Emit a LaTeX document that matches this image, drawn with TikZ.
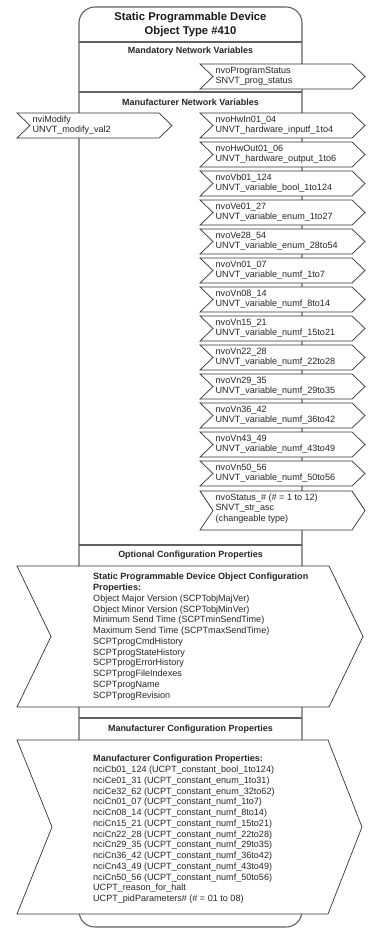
\documentclass[tikz,border=0pt]{standalone}
\usepackage{fontspec}
\setmainfont{Liberation Sans}
% chevron shaped network variable: name, left x, top y, tip x, height, notch depth, text
\newcommand\nvarrow[7]{%
  \draw[chev] (#2,#3) -- ({#4-#6},#3) -- (#4,{#3+#5/2}) -- ({#4-#6},{#3+#5})
    -- (#2,{#3+#5}) -- ({#2+#6},{#3+#5/2}) -- cycle;
  \node[nvtext] (#1) at ({#2+#6+2.5},{#3+1.6}) {\strut #7};
}
\begin{document}
\begin{tikzpicture}[x=1bp,y=-1bp,
  body/.style={draw=black!62, line width=1.1bp},
  chev/.style={draw=black!80, fill=white, line width=0.7bp, line join=miter},
  nvtext/.style={anchor=north west, inner sep=0pt, align=left,
    font=\fontsize{9.1}{10.5}\selectfont, text=black!85},
  cptext/.style={anchor=north west, inner sep=0pt, align=left,
    font=\fontsize{9.1}{10.8}\selectfont, text=black!85},
  hdr/.style={inner sep=0pt, font=\bfseries\fontsize{9}{10.8}\selectfont, text=black!85},
  ttl/.style={inner sep=0pt, align=center, font=\bfseries\fontsize{11.3}{14}\selectfont, text=black!90},
]
\useasboundingbox (0,0) rectangle (372,930);

% object body
\draw[body, rounded corners=16bp] (79,7) rectangle (302,927);
\draw[body] (79,42) -- (302,42);
\draw[body] (79,92) -- (302,92);
\draw[body] (79,545) -- (302,545);
\draw[body] (79,718) -- (302,718);

% headings
\node[ttl] (title) at (190.5,24.5) {Static Programmable Device\\Object Type \#410};
\node[hdr] (mandnv) at (190.5,51) {Mandatory Network Variables};
\node[hdr] (mfgnv) at (190.5,102.5) {Manufacturer Network Variables};
\node[hdr] (optcp) at (190.5,555) {Optional Configuration Properties};
\node[hdr] (mfgcp) at (190.5,729) {Manufacturer Configuration Properties};

% mandatory output
\nvarrow{progstatus}{200}{64}{365}{25}{13}{nvoProgramStatus\\SNVT\_prog\_status}

% manufacturer input
\nvarrow{modify}{17}{113}{172}{25}{13}{nviModify\\UNVT\_modify\_val2}

% manufacturer outputs
\foreach \n/\a/\b [count=\i from 0] in {
  hwin/nvoHwIn01\_04/UNVT\_hardware\_inputf\_1to4,
  hwout/nvoHwOut01\_06/UNVT\_hardware\_output\_1to6,
  vb/nvoVb01\_124/UNVT\_variable\_bool\_1to124,
  veA/nvoVe01\_27/UNVT\_variable\_enum\_1to27,
  veB/nvoVe28\_54/UNVT\_variable\_enum\_28to54,
  vnA/nvoVn01\_07/UNVT\_variable\_numf\_1to7,
  vnB/nvoVn08\_14/UNVT\_variable\_numf\_8to14,
  vnC/nvoVn15\_21/UNVT\_variable\_numf\_15to21,
  vnD/nvoVn22\_28/UNVT\_variable\_numf\_22to28,
  vnE/nvoVn29\_35/UNVT\_variable\_numf\_29to35,
  vnF/nvoVn36\_42/UNVT\_variable\_numf\_36to42,
  vnG/nvoVn43\_49/UNVT\_variable\_numf\_43to49,
  vnH/nvoVn50\_56/UNVT\_variable\_numf\_50to56}
{
  \nvarrow{\n}{200}{113+29*\i}{365}{25}{13}{\a\\\b}
}
\nvarrow{status}{200}{491}{365}{39}{13}{nvoStatus\_\# (\# = 1 to 12)\\SNVT\_str\_asc\\(changeable type)}

% optional configuration properties
\draw[chev] (17,566) -- (329,566) -- (363,636.5) -- (329,707) -- (17,707) -- (51,636.5) -- cycle;
\node[cptext] (scpt) at (93,572) {\strut\textbf{Static Programmable Device Object Configuration}\\
  \textbf{Properties:}\\
  Object Major Version (SCPTobjMajVer)\\
  Object Minor Version (SCPTobjMinVer)\\
  Minimum Send Time (SCPTminSendTime)\\
  Maximum Send Time (SCPTmaxSendTime)\\
  SCPTprogCmdHistory\\
  SCPTprogStateHistory\\
  SCPTprogErrorHistory\\
  SCPTprogFileIndexes\\
  SCPTprogName\\
  SCPTprogRevision};

% manufacturer configuration properties
\draw[chev] (17,740) -- (328,740) -- (362,827) -- (328,914) -- (17,914) -- (52,827) -- cycle;
\node[cptext] (ucpt) at (93,754) {\strut\textbf{Manufacturer Configuration Properties:}\\
  nciCb01\_124 (UCPT\_constant\_bool\_1to124)\\
  nciCe01\_31 (UCPT\_constant\_enum\_1to31)\\
  nciCe32\_62 (UCPT\_constant\_enum\_32to62)\\
  nciCn01\_07 (UCPT\_constant\_numf\_1to7)\\
  nciCn08\_14 (UCPT\_constant\_numf\_8to14)\\
  nciCn15\_21 (UCPT\_constant\_numf\_15to21)\\
  nciCn22\_28 (UCPT\_constant\_numf\_22to28)\\
  nciCn29\_35 (UCPT\_constant\_numf\_29to35)\\
  nciCn36\_42 (UCPT\_constant\_numf\_36to42)\\
  nciCn43\_49 (UCPT\_constant\_numf\_43to49)\\
  nciCn50\_56 (UCPT\_constant\_numf\_50to56)\\
  UCPT\_reason\_for\_halt\\
  UCPT\_pidParameters\# (\# = 01 to 08)};
\end{tikzpicture}
\end{document}
